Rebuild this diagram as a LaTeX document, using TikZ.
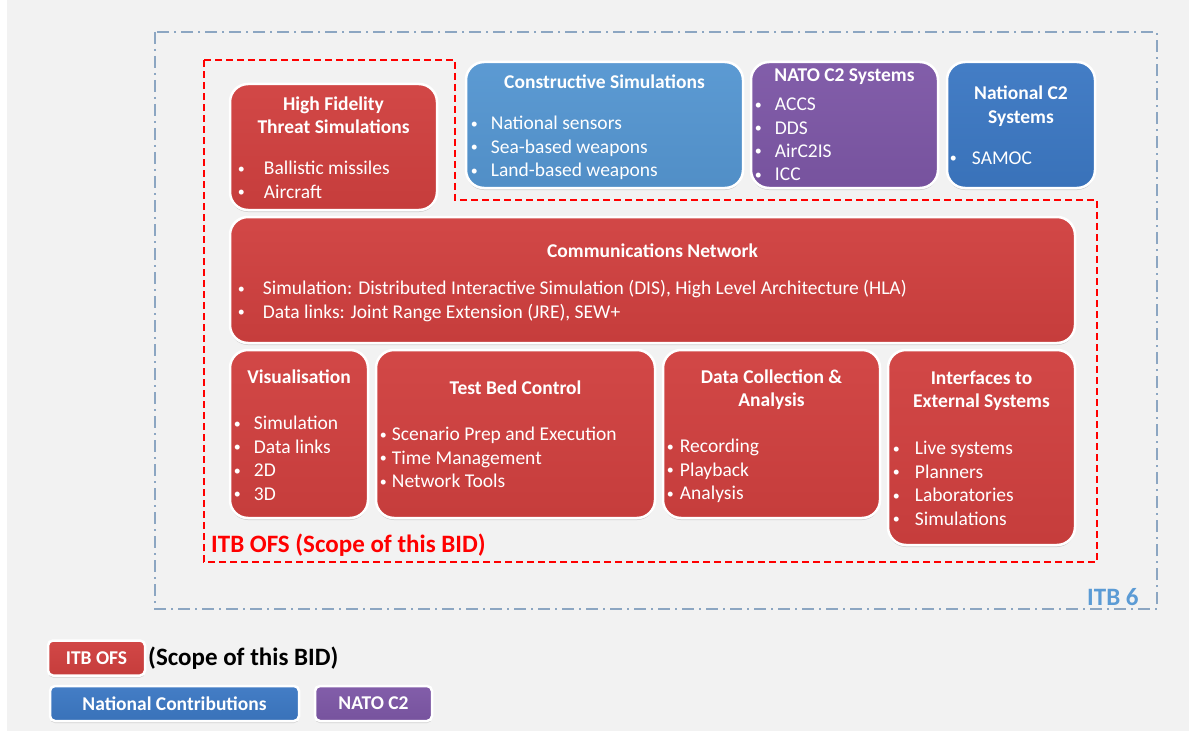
\documentclass[tikz,border=0pt]{standalone}
\usepackage{fontspec}
\setmainfont{Carlito}
\usetikzlibrary{positioning,shadows}
\definecolor{bgGray}{HTML}{F2F2F2}
\definecolor{ofsRed}{HTML}{D0403F}
\definecolor{consBlue}{HTML}{5596D1}
\definecolor{natBlue}{HTML}{3C78C3}
\definecolor{natoPurple}{HTML}{7D57A6}
\definecolor{itbLine}{HTML}{8CA6C2}
\definecolor{itbText}{HTML}{5B9BD5}
\newcommand{\boxfont}{\fontsize{19.5}{23.4}\selectfont}
\tikzset{block/.style={rectangle,rounded corners=18pt,draw=white,line width=2.5pt,inner sep=0pt,drop shadow={shadow xshift=0pt,shadow yshift=-2pt,opacity=0.3}}}
\tikzset{ofs/.style={block,top color=ofsRed!96!white,bottom color=ofsRed!95!black}}
\tikzset{cons/.style={block,top color=consBlue!96!white,bottom color=consBlue!95!black}}
\tikzset{natc/.style={block,top color=natBlue!96!white,bottom color=natBlue!95!black}}
\tikzset{nato/.style={block,top color=natoPurple!96!white,bottom color=natoPurple!95!black}}
\tikzset{legend/.style={rounded corners=5pt,text=white,font=\boxfont\bfseries}}
\tikzset{title/.style={text=white,font=\boxfont\bfseries,align=center,inner sep=0pt}}
\tikzset{items/.style={text=white,align=left,inner sep=0pt}}
\tikzset{scopeLine/.style={draw=red,line width=1.5pt,dash pattern=on 7pt off 4pt}}
\tikzset{itbBorder/.style={draw=itbLine,line width=1.5pt,dash pattern=on 12pt off 5pt on 2pt off 5pt}}
\newcommand{\bul}[1]{\makebox[#1][l]{\hspace{1pt}\raisebox{1.5pt}{\fontsize{14}{14}\selectfont\textbullet}}}

\begin{document}
\begin{tikzpicture}[x=1pt,y=-1pt,font=\boxfont]
\useasboundingbox (0,0) rectangle (1189,733);
\fill[white] (0,0) rectangle (1189,733);
\fill[bgGray] (7,0) rectangle (1189,731);

% ITB 6 and scope of the bid
\draw[itbBorder] (155,32) rectangle (1157,609);
\draw[scopeLine] (204,60) -- (455,60) -- (455,200) -- (1097,200) -- (1097,562) -- (204,562) -- cycle;
\node (ofsLabel) [anchor=base west,inner sep=0pt,text=red,font=\fontsize{25}{30}\selectfont\bfseries] at (211,552) {ITB OFS (Scope of this BID)};
\node (itbLabel) [anchor=base west,inner sep=0pt,text=itbText,font=\fontsize{25}{30}\selectfont\bfseries] at (1087,605) {ITB 6};

% top row
\node (hf) [ofs,minimum width=207pt,minimum height=126pt] at (333.5,147) {};
\node (hfT) [title,below=13.5pt of hf.north] {High Fidelity\\Threat Simulations};
\node (hfL) [items,below right=78.5pt and 8pt of hf.north west] {\bul{27pt}Ballistic missiles\\\bul{27pt}Aircraft};

\node (cons) [cons,minimum width=277pt,minimum height=126pt] at (604.5,125) {};
\node (consT) [title,below=14pt of cons.north] {Constructive Simulations};
\node (consL) [items,below right=55.5pt and 5pt of cons.north west] {\bul{21pt}National sensors\\\bul{21pt}Sea-based weapons\\\bul{21pt}Land-based weapons};

\node (nato) [nato,minimum width=187pt,minimum height=126pt] at (844.5,125) {};
\node (natoT) [title,below=7.5pt of nato.north] {NATO C2 Systems};
\node (natoL) [items,below right=37pt and 4pt of nato.north west] {\bul{21pt}ACCS\\\bul{21pt}DDS\\\bul{21pt}AirC2IS\\\bul{21pt}ICC};

\node (natc) [natc,minimum width=148pt,minimum height=126pt] at (1021,125) {};
\node (natcT) [title,below=25pt of natc.north] {National C2\\Systems};
\node (natcL) [items,below right=90.5pt and 3pt of natc.north west] {\bul{23pt}SAMOC};

% communications
\node (comms) [ofs,minimum width=845pt,minimum height=126pt] at (652.5,280) {};
\node (commsT) [title,below=27.5pt of comms.north] {Communications Network};
\node (commsL) [items,below right=64.5pt and 8pt of comms.north west] {\bul{26pt}Simulation: Distributed Interactive Simulation (DIS), High Level Architecture (HLA)\\\bul{26pt}Data links: Joint Range Extension (JRE), SEW+};

% bottom row
\node (vis) [ofs,minimum width=138pt,minimum height=168pt] at (299,434) {};
\node (visT) [title,below=20.5pt of vis.north] {Visualisation};
\node (visL) [items,below right=67.5pt and 4pt of vis.north west] {\bul{21pt}Simulation\\\bul{21pt}Data links\\\bul{21pt}2D\\\bul{21pt}3D};

\node (tbc) [ofs,minimum width=279pt,minimum height=168pt] at (515.5,434) {};
\node (tbcT) [title,below=31.5pt of tbc.north] {Test Bed Control};
\node (tbcL) [items,below right=78.5pt and 4pt of tbc.north west] {\bul{13pt}Scenario Prep and Execution\\\bul{13pt}Time Management\\\bul{13pt}Network Tools};

\node (dca) [ofs,minimum width=217pt,minimum height=168pt] at (771.5,434) {};
\node (dcaT) [title,below=20.5pt of dca.north] {Data Collection \&\\Analysis};
\node (dcaL) [items,below right=90.5pt and 4pt of dca.north west] {\bul{14pt}Recording\\\bul{14pt}Playback\\\bul{14pt}Analysis};

\node (ifc) [ofs,minimum width=187pt,minimum height=195pt] at (981.5,447.5) {};
\node (ifcT) [title,below=22pt of ifc.north] {Interfaces to\\External Systems};
\node (ifcL) [items,below right=92.5pt and 5pt of ifc.north west] {\bul{23pt}Live systems\\\bul{23pt}Planners\\\bul{23pt}Laboratories\\\bul{23pt}Simulations};

% legend
\node (legOfs) [ofs,legend,minimum width=97pt,minimum height=35pt] at (96.5,658) {ITB OFS};
\node (legScope) [anchor=base west,inner sep=0pt,font=\fontsize{25}{30}\selectfont\bfseries] at (148,665) {(Scope of this BID)};
\node (legNat) [natc,legend,minimum width=249pt,minimum height=35pt] at (174.5,703.5) {National Contributions};
\node (legNato) [nato,legend,minimum width=117pt,minimum height=35pt] at (373.5,703.5) {NATO C2};
\end{tikzpicture}
\end{document}
